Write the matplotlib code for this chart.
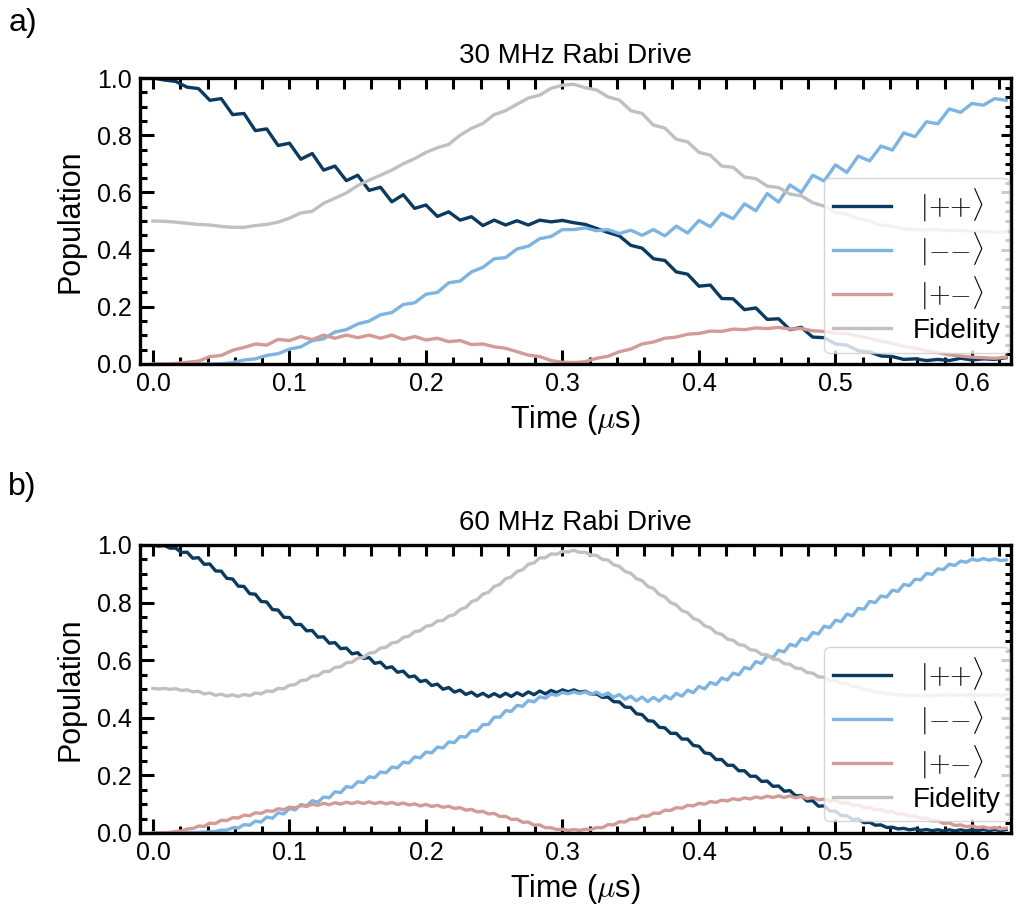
import numpy as np
import matplotlib
matplotlib.use("Agg")
import matplotlib.pyplot as plt
from matplotlib.ticker import MultipleLocator

plt.rcParams['font.family'] = ['Liberation Sans', 'DejaVu Sans']
plt.rcParams['mathtext.fontset'] = 'cm'

# sample times (us) the curves were read at
t_a = np.linspace(0, 0.625, 76)
t_b = np.linspace(0, 0.625, 151)

# ---- a) 30 MHz Rabi drive ----
pp_a = [1.000, 0.993, 0.988, 0.968, 0.963, 0.922, 0.928, 0.872, 0.876, 0.816,
        0.822, 0.764, 0.772, 0.716, 0.736, 0.678, 0.692, 0.641, 0.660, 0.607,
        0.618, 0.567, 0.592, 0.544, 0.556, 0.516, 0.532, 0.503, 0.515, 0.484,
        0.503, 0.486, 0.501, 0.486, 0.503, 0.497, 0.502, 0.494, 0.488, 0.474,
        0.460, 0.448, 0.415, 0.405, 0.368, 0.362, 0.322, 0.314, 0.272, 0.276,
        0.229, 0.228, 0.190, 0.196, 0.156, 0.158, 0.120, 0.128, 0.094, 0.092,
        0.070, 0.066, 0.046, 0.042, 0.028, 0.026, 0.016, 0.018, 0.012, 0.016,
        0.012, 0.020, 0.014, 0.018, 0.016, 0.022]
mm_a = [0.000, 0.000, 0.000, 0.000, 0.000, 0.000, 0.001, 0.005, 0.014, 0.018,
        0.030, 0.036, 0.052, 0.060, 0.082, 0.088, 0.112, 0.120, 0.140, 0.150,
        0.172, 0.180, 0.208, 0.214, 0.244, 0.250, 0.284, 0.290, 0.322, 0.338,
        0.368, 0.372, 0.402, 0.412, 0.438, 0.446, 0.470, 0.470, 0.476, 0.466,
        0.470, 0.456, 0.468, 0.450, 0.470, 0.448, 0.482, 0.458, 0.502, 0.480,
        0.527, 0.508, 0.560, 0.536, 0.596, 0.566, 0.626, 0.600, 0.660, 0.640,
        0.696, 0.670, 0.727, 0.710, 0.762, 0.748, 0.808, 0.795, 0.847, 0.840,
        0.892, 0.880, 0.911, 0.905, 0.928, 0.922]
pm_a = [0.000, 0.000, 0.002, 0.006, 0.010, 0.026, 0.030, 0.048, 0.058, 0.070,
        0.066, 0.086, 0.082, 0.096, 0.085, 0.101, 0.090, 0.101, 0.092, 0.101,
        0.090, 0.101, 0.086, 0.096, 0.084, 0.090, 0.078, 0.082, 0.068, 0.070,
        0.060, 0.055, 0.043, 0.031, 0.026, 0.012, 0.006, 0.005, 0.008, 0.020,
        0.027, 0.043, 0.052, 0.070, 0.077, 0.090, 0.094, 0.104, 0.107, 0.115,
        0.114, 0.122, 0.120, 0.126, 0.124, 0.128, 0.122, 0.124, 0.116, 0.114,
        0.108, 0.106, 0.098, 0.090, 0.080, 0.072, 0.062, 0.056, 0.046, 0.040,
        0.032, 0.028, 0.024, 0.022, 0.020, 0.024]
fid_a = [0.500, 0.499, 0.496, 0.492, 0.488, 0.486, 0.481, 0.478, 0.478, 0.484,
         0.488, 0.496, 0.510, 0.528, 0.534, 0.562, 0.580, 0.598, 0.624, 0.643,
         0.660, 0.678, 0.700, 0.718, 0.740, 0.756, 0.768, 0.800, 0.824, 0.841,
         0.872, 0.886, 0.908, 0.930, 0.940, 0.964, 0.975, 0.978, 0.966, 0.958,
         0.934, 0.923, 0.886, 0.876, 0.835, 0.825, 0.786, 0.777, 0.740, 0.730,
         0.692, 0.688, 0.654, 0.648, 0.622, 0.617, 0.594, 0.588, 0.564, 0.552,
         0.530, 0.524, 0.508, 0.500, 0.486, 0.482, 0.472, 0.470, 0.469, 0.470,
         0.466, 0.468, 0.462, 0.464, 0.460, 0.462]

# ---- b) 60 MHz Rabi drive ----
pp_b = [1.000, 0.996, 0.998, 0.989, 0.989, 0.974, 0.975, 0.954, 0.956, 0.933,
        0.934, 0.910, 0.909, 0.884, 0.882, 0.857, 0.856, 0.831, 0.829, 0.804,
        0.802, 0.776, 0.774, 0.749, 0.748, 0.724, 0.724, 0.702, 0.703, 0.680,
        0.681, 0.659, 0.661, 0.640, 0.642, 0.622, 0.626, 0.606, 0.609, 0.589,
        0.593, 0.573, 0.577, 0.558, 0.562, 0.542, 0.545, 0.526, 0.530, 0.512,
        0.517, 0.499, 0.505, 0.489, 0.496, 0.481, 0.489, 0.475, 0.485, 0.473,
        0.484, 0.473, 0.485, 0.474, 0.487, 0.477, 0.490, 0.480, 0.493, 0.483,
        0.495, 0.487, 0.497, 0.490, 0.497, 0.489, 0.492, 0.482, 0.483, 0.471,
        0.472, 0.456, 0.455, 0.437, 0.436, 0.414, 0.411, 0.390, 0.388, 0.367,
        0.365, 0.346, 0.346, 0.326, 0.326, 0.304, 0.301, 0.278, 0.275, 0.255,
        0.255, 0.235, 0.235, 0.216, 0.216, 0.197, 0.197, 0.179, 0.180, 0.162,
        0.163, 0.145, 0.147, 0.129, 0.130, 0.111, 0.112, 0.093, 0.094, 0.076,
        0.076, 0.060, 0.060, 0.047, 0.049, 0.036, 0.037, 0.027, 0.028, 0.019,
        0.020, 0.014, 0.016, 0.011, 0.014, 0.009, 0.012, 0.008, 0.011, 0.007,
        0.011, 0.007, 0.011, 0.007, 0.011, 0.008, 0.012, 0.008, 0.012, 0.008,
        0.012]
mm_b = [0.000, 0.000, 0.000, 0.000, 0.000, 0.000, 0.001, 0.001, 0.002, 0.003,
        0.004, 0.005, 0.010, 0.010, 0.018, 0.017, 0.029, 0.027, 0.041, 0.038,
        0.055, 0.051, 0.070, 0.066, 0.085, 0.080, 0.099, 0.094, 0.112, 0.107,
        0.125, 0.122, 0.143, 0.140, 0.161, 0.158, 0.178, 0.175, 0.195, 0.192,
        0.212, 0.209, 0.229, 0.226, 0.246, 0.243, 0.264, 0.261, 0.281, 0.278,
        0.298, 0.295, 0.316, 0.314, 0.335, 0.333, 0.355, 0.354, 0.376, 0.377,
        0.402, 0.402, 0.425, 0.422, 0.443, 0.440, 0.460, 0.455, 0.473, 0.468,
        0.482, 0.478, 0.488, 0.483, 0.490, 0.484, 0.490, 0.481, 0.489, 0.477,
        0.486, 0.471, 0.481, 0.464, 0.475, 0.459, 0.472, 0.456, 0.471, 0.458,
        0.476, 0.465, 0.485, 0.475, 0.496, 0.487, 0.509, 0.500, 0.523, 0.515,
        0.538, 0.531, 0.555, 0.549, 0.575, 0.569, 0.595, 0.589, 0.615, 0.609,
        0.634, 0.629, 0.655, 0.649, 0.675, 0.670, 0.696, 0.691, 0.718, 0.713,
        0.739, 0.734, 0.760, 0.754, 0.780, 0.777, 0.804, 0.800, 0.823, 0.819,
        0.843, 0.839, 0.863, 0.859, 0.881, 0.879, 0.901, 0.898, 0.917, 0.915,
        0.933, 0.929, 0.944, 0.940, 0.951, 0.946, 0.953, 0.947, 0.952, 0.946,
        0.948]
pm_b = [0.000, 0.000, 0.000, 0.002, 0.005, 0.007, 0.014, 0.015, 0.024, 0.023,
        0.034, 0.033, 0.044, 0.043, 0.053, 0.052, 0.062, 0.060, 0.070, 0.068,
        0.077, 0.075, 0.084, 0.081, 0.090, 0.087, 0.095, 0.092, 0.100, 0.096,
        0.103, 0.098, 0.105, 0.100, 0.107, 0.102, 0.108, 0.102, 0.108, 0.102,
        0.107, 0.101, 0.106, 0.099, 0.104, 0.097, 0.101, 0.094, 0.099, 0.092,
        0.096, 0.089, 0.093, 0.085, 0.088, 0.079, 0.082, 0.073, 0.075, 0.066,
        0.068, 0.057, 0.058, 0.047, 0.048, 0.037, 0.038, 0.027, 0.028, 0.018,
        0.018, 0.012, 0.013, 0.009, 0.012, 0.009, 0.013, 0.012, 0.019, 0.018,
        0.029, 0.028, 0.039, 0.038, 0.049, 0.048, 0.059, 0.058, 0.069, 0.068,
        0.079, 0.078, 0.088, 0.086, 0.096, 0.094, 0.103, 0.100, 0.109, 0.106,
        0.114, 0.111, 0.119, 0.115, 0.122, 0.118, 0.125, 0.121, 0.128, 0.123,
        0.129, 0.123, 0.129, 0.122, 0.127, 0.119, 0.123, 0.115, 0.118, 0.110,
        0.113, 0.104, 0.106, 0.096, 0.098, 0.088, 0.089, 0.080, 0.082, 0.072,
        0.074, 0.065, 0.067, 0.057, 0.059, 0.050, 0.052, 0.042, 0.043, 0.033,
        0.035, 0.026, 0.028, 0.022, 0.024, 0.019, 0.021, 0.016, 0.019, 0.014,
        0.017]
fid_b = [0.502, 0.500, 0.502, 0.499, 0.501, 0.495, 0.497, 0.490, 0.492, 0.483,
         0.486, 0.478, 0.482, 0.475, 0.480, 0.474, 0.481, 0.477, 0.486, 0.483,
         0.493, 0.491, 0.502, 0.501, 0.513, 0.515, 0.529, 0.531, 0.545, 0.546,
         0.560, 0.561, 0.575, 0.577, 0.591, 0.593, 0.607, 0.609, 0.624, 0.627,
         0.642, 0.645, 0.660, 0.663, 0.679, 0.683, 0.699, 0.702, 0.718, 0.721,
         0.736, 0.738, 0.753, 0.758, 0.776, 0.783, 0.803, 0.810, 0.829, 0.836,
         0.856, 0.863, 0.883, 0.889, 0.908, 0.914, 0.933, 0.938, 0.955, 0.956,
         0.969, 0.968, 0.978, 0.976, 0.982, 0.974, 0.975, 0.965, 0.964, 0.950,
         0.948, 0.931, 0.926, 0.908, 0.902, 0.883, 0.876, 0.856, 0.849, 0.828,
         0.820, 0.800, 0.792, 0.772, 0.765, 0.745, 0.738, 0.719, 0.713, 0.695,
         0.690, 0.673, 0.669, 0.654, 0.651, 0.636, 0.634, 0.620, 0.618, 0.604,
         0.602, 0.588, 0.586, 0.572, 0.571, 0.557, 0.555, 0.542, 0.541, 0.529,
         0.530, 0.518, 0.519, 0.508, 0.509, 0.497, 0.497, 0.489, 0.490, 0.483,
         0.484, 0.478, 0.481, 0.476, 0.479, 0.475, 0.479, 0.475, 0.480, 0.476,
         0.481, 0.477, 0.481, 0.477, 0.481, 0.477, 0.481, 0.477, 0.481, 0.477,
         0.481]

labels = [r' $|{+}{+}\rangle$', r' $|{-}{-}\rangle$', r' $|{+}{-}\rangle$', 'Fidelity']
colors = ['#0b3a60', '#7db4e1', '#d29b96', '#c0c0c0']

panels = [
    ('a)', '30 MHz Rabi Drive', t_a, [pp_a, mm_a, pm_a, fid_a]),
    ('b)', '60 MHz Rabi Drive', t_b, [pp_b, mm_b, pm_b, fid_b]),
]

fig = plt.figure(figsize=(10.16, 9.05), dpi=100)
rects = [[0.1378, 0.5978, 0.8573, 0.3160], [0.1378, 0.0796, 0.8573, 0.3182]]
letter_y = [0.991, 0.478]

for (letter, title, t, series), rect, ly in zip(panels, rects, letter_y):
    ax = fig.add_axes(rect)
    for y, c, lab in zip(series, colors, labels):
        ax.plot(t, y, color=c, lw=2.4, label=lab)
    ax.set_xlim(-0.0095, 0.6286)
    ax.set_ylim(0, 1)
    ax.set_title(title, fontsize=20, pad=11)
    ax.set_xlabel(r'Time ($\mu$s)', fontsize=22, labelpad=5)
    ax.set_ylabel('Population', fontsize=22, labelpad=8)

    ax.xaxis.set_major_locator(MultipleLocator(0.1))
    ax.xaxis.set_minor_locator(MultipleLocator(0.02))
    ax.yaxis.set_major_locator(MultipleLocator(0.2))
    ax.yaxis.set_minor_locator(MultipleLocator(0.05))
    ax.xaxis.set_major_formatter(lambda v, p: f'{v:.1f}')
    ax.yaxis.set_major_formatter(lambda v, p: f'{v:.1f}')
    ax.tick_params(which='both', direction='in', width=2.2, labelsize=18)
    ax.tick_params(which='major', length=10, pad=6)
    ax.tick_params(which='minor', length=5)
    for s in ax.spines.values():
        s.set_linewidth(2.4)

    top = ax.secondary_xaxis('top')
    top.xaxis.set_major_locator(MultipleLocator(0.02))
    top.tick_params(which='major', direction='in', length=8, width=2.2,
                    labeltop=False)
    right = ax.secondary_yaxis('right')
    right.yaxis.set_major_locator(MultipleLocator(0.2))
    right.yaxis.set_minor_locator(MultipleLocator(0.2 / 6))
    right.tick_params(which='major', direction='in', length=7, width=2.2,
                      labelright=False)
    right.tick_params(which='minor', direction='in', length=4, width=2.2)

    ax.legend(loc='lower right', bbox_to_anchor=(0.998, 0.04), borderaxespad=0,
              fontsize=20, handlelength=2.1, handletextpad=0.8, labelspacing=0.22,
              borderpad=0.3)
    fig.text(0.008, ly, letter, fontsize=23, va='top', ha='left')

fig.savefig('out.png', dpi=100)
